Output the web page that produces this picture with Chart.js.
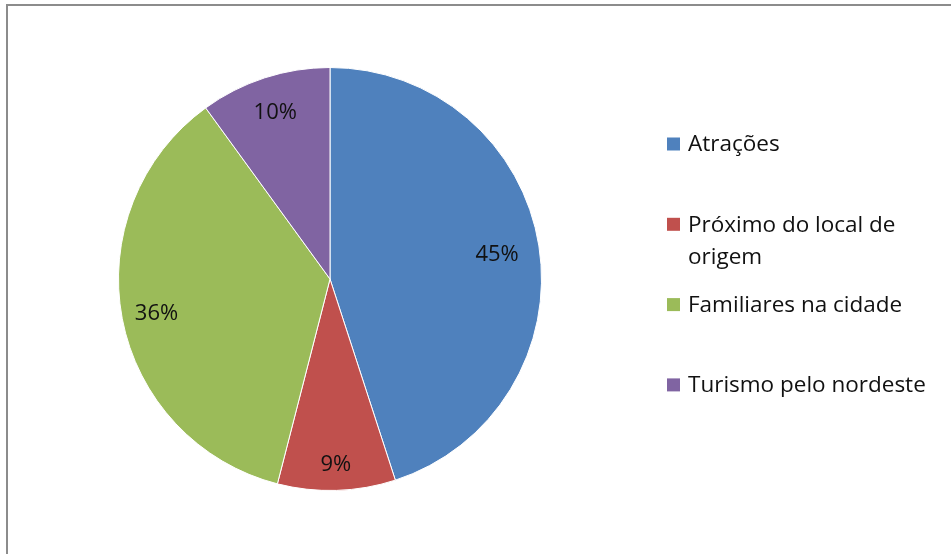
<!DOCTYPE html>
<html>
<head>
<meta charset="utf-8">
<script src="https://cdn.jsdelivr.net/npm/chart.js@4/dist/chart.umd.min.js"></script>
<style>
    html, body { margin: 0; padding: 0; background: #fff; overflow: hidden; }
    #frame {
        position: absolute; left: 6px; top: 4px;
        width: 1200px; height: 800px;
        border: 2px solid #8c8c8c;
    }
    #motivos-chart { position: absolute; left: 0; top: 0; }
</style>
</head>
<body>
<div id="frame"></div>
<canvas id="motivos-chart" width="951" height="554"></canvas>
<script>
// Motivos da escolha do destino
const categories = ['Atrações', ['Próximo do local de', 'origem'], 'Familiares na cidade', 'Turismo pelo nordeste'];
const shares = [45, 9, 36, 10];
const sliceColors = ['#4F81BD', '#C0504D', '#9BBB59', '#8064A2'];

const FONT = '"Open Sans", Calibri, "Liberation Sans", sans-serif';
// how far out along the radius each percent label sits
const labelRadius = [0.8, 0.87, 0.835, 0.837];

// Percent labels placed inside each slice
const sliceLabels = {
    id: 'sliceLabels',
    afterDatasetsDraw(chart) {
        const ctx = chart.ctx;
        const meta = chart.getDatasetMeta(0);
        ctx.save();
        ctx.font = '22px ' + FONT;
        ctx.fillStyle = '#111';
        ctx.textAlign = 'center';
        ctx.textBaseline = 'middle';
        meta.data.forEach((arc, i) => {
            const mid = (arc.startAngle + arc.endAngle) / 2;
            const r = arc.outerRadius * labelRadius[i];
            ctx.fillText(shares[i] + '%', arc.x + Math.cos(mid) * r, arc.y + Math.sin(mid) * r + 2);
        });
        ctx.restore();
    }
};

// Legend on the right, items spread evenly down the side
const sideLegend = {
    id: 'sideLegend',
    afterDraw(chart) {
        const ctx = chart.ctx;
        const boxX = 667, textX = 688, firstY = 144, step = 80.3, lineH = 32;
        ctx.save();
        ctx.font = '22.5px ' + FONT;
        ctx.textAlign = 'left';
        ctx.textBaseline = 'middle';
        categories.forEach((label, i) => {
            const y = firstY + step * i;
            ctx.fillStyle = sliceColors[i];
            ctx.fillRect(boxX, y - 6.5, 13, 13);
            ctx.fillStyle = '#111';
            const lines = Array.isArray(label) ? label : [label];
            lines.forEach((line, j) => ctx.fillText(line, textX, y + 1 + j * lineH));
        });
        ctx.restore();
    }
};

const ctx = document.getElementById('motivos-chart').getContext('2d');
new Chart(ctx, {
    type: 'pie',
    data: {
        labels: categories.map(c => Array.isArray(c) ? c.join(' ') : c),
        datasets: [{
            data: shares,
            backgroundColor: sliceColors,
            borderColor: '#ffffff',
            borderWidth: 1
        }]
    },
    options: {
        responsive: false,
        animation: false,
        devicePixelRatio: 1,
        layout: {
            padding: { left: 118, right: 409, top: 67, bottom: 63 }
        },
        plugins: {
            legend: { display: false },
            tooltip: { enabled: false }
        }
    },
    plugins: [sliceLabels, sideLegend]
});
</script>
</body>
</html>
